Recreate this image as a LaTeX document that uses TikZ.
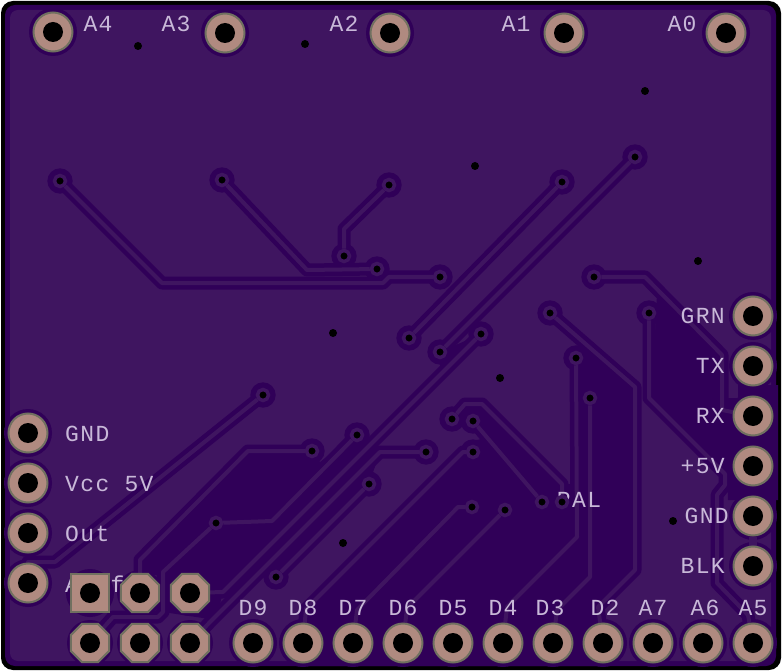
\documentclass[tikz,border=0pt]{standalone}
\usepackage{fontspec}
\setmonofont{Liberation Mono}[LetterSpace=6]
\usetikzlibrary{backgrounds,shapes.geometric}

\definecolor{boardcu}{RGB}{63,21,96}
\definecolor{boardgap}{RGB}{48,0,88}
\definecolor{padcu}{RGB}{176,138,128}
\definecolor{padrim}{RGB}{112,112,96}
\definecolor{silk}{RGB}{200,184,216}

\begin{document}
\begin{tikzpicture}[x=1pt,y=-1pt]
\tikzstyle{silktext}=[inner sep=0pt, text=silk, font=\ttfamily\fontsize{23}{23}\selectfont]
\tikzstyle{drill}=[path picture={\fill[black] (path picture bounding box.center) circle (10pt);}]
\tikzstyle{pad}=[draw=padrim, fill=padcu, line width=2pt, inner sep=0pt, drill, circle, minimum size=39pt]
\tikzstyle{sqpad}=[draw=padrim, fill=padcu, line width=2pt, inner sep=0pt, drill, rectangle, minimum size=38pt]
\tikzstyle{octpad}=[draw=padrim, fill=padcu, line width=2pt, inner sep=0pt, drill, regular polygon, regular polygon sides=8, minimum size=41.5pt]
\tikzstyle{via}=[circle, fill=black, draw=boardcu, line width=3.5pt, inner sep=0pt, minimum size=11pt]
\tikzstyle{hole}=[circle, fill=black, inner sep=0pt, minimum size=8pt]
\tikzstyle{trace}=[draw=boardgap, line width=4.5pt, double=boardcu, double distance=4pt, line join=round]

\useasboundingbox (0,0) rectangle (782,671);

% silk labels go under the pads
\node[silktext] (LA4) at ( 98, 24) {A4};
\node[silktext] (LA3) at (176, 24) {A3};
\node[silktext] (LA2) at (344, 24) {A2};
\node[silktext] (LA1) at (516, 24) {A1};
\node[silktext] (LA0) at (682, 24) {A0};
\node[silktext, anchor=west] (LGL) at (65,434) {GND};
\node[silktext, anchor=west] (LVC) at (65,484) {Vcc 5V};
\node[silktext, anchor=west] (LOU) at (65,534) {Out};
\node[silktext, anchor=west] (LAR) at (65,584) {Aref};
\node[silktext] (LD9) at (253,608) {D9};
\node[silktext] (LD8) at (303,608) {D8};
\node[silktext] (LD7) at (353,608) {D7};
\node[silktext] (LD6) at (403,608) {D6};
\node[silktext] (LD5) at (453,608) {D5};
\node[silktext] (LD4) at (503,608) {D4};
\node[silktext] (LD3) at (550,608) {D3};
\node[silktext] (LD2) at (605,608) {D2};
\node[silktext] (LA7) at (653,608) {A7};
\node[silktext] (LA6) at (705,608) {A6};
\node[silktext] (LA5) at (753,608) {A5};
\node[silktext, anchor=east] (LGR) at (725,316) {GRN};
\node[silktext, anchor=east] (LTX) at (725,366) {TX};
\node[silktext, anchor=east] (LRX) at (725,416) {RX};
\node[silktext, anchor=east] (LFV) at (725,466) {+5V};
\node[silktext, anchor=east] (LGD) at (729,516) {GND};
\node[silktext, anchor=east] (LBK) at (725,566) {BLK};
\node[silktext] (LPL) at (579,500) {PAL};

\node[pad] (PA4) at ( 53, 32) {};
\node[pad] (PA3) at (225, 33) {};
\node[pad] (PA2) at (390, 33) {};
\node[pad] (PA1) at (564, 33) {};
\node[pad] (PA0) at (726, 33) {};

\node[pad] (PGL) at (28,433) {};
\node[pad] (PVC) at (28,483) {};
\node[pad] (POU) at (28,533) {};
\node[pad] (PAR) at (28,583) {};

\node[sqpad]  (JA) at ( 90,593) {};
\node[octpad] (JB) at (140,593) {};
\node[octpad] (JC) at (190,593) {};
\node[octpad] (JD) at ( 90,643) {};
\node[octpad] (JE) at (140,643) {};
\node[octpad] (JF) at (190,643) {};

\node[pad] (PD9) at (253,643) {};
\node[pad] (PD8) at (303,643) {};
\node[pad] (PD7) at (353,643) {};
\node[pad] (PD6) at (403,643) {};
\node[pad] (PD5) at (453,643) {};
\node[pad] (PD4) at (503,643) {};
\node[pad] (PD3) at (553,643) {};
\node[pad] (PD2) at (603,643) {};
\node[pad] (PA7) at (653,643) {};
\node[pad] (PA6) at (703,643) {};
\node[pad] (PA5) at (753,643) {};

\node[pad] (PGR) at (753,316) {};
\node[pad] (PTX) at (753,366) {};
\node[pad] (PRX) at (753,416) {};
\node[pad] (PFV) at (753,466) {};
\node[pad] (PGD) at (753,516) {};
\node[pad] (PBK) at (753,566) {};

\node[via] (V1)  at ( 60,181) {};
\node[via] (V2)  at (222,180) {};
\node[via] (V3)  at (389,185) {};
\node[via] (V4)  at (344,256) {};
\node[via] (V5)  at (377,269) {};
\node[via] (V6)  at (440,277) {};
\node[via] (V7)  at (409,338) {};
\node[via] (V8)  at (440,352) {};
\node[via] (V9)  at (263,395) {};
\node[via] (V10) at (635,157) {};
\node[via] (V11) at (562,182) {};
\node[via] (V12) at (594,277) {};
\node[via] (V13) at (550,313) {};
\node[via] (V14) at (649,313) {};
\node[via] (V15) at (481,334) {};
\node[via] (V16) at (576,358) {};
\node[via] (V17) at (590,398) {};
\node[via] (V18) at (312,451) {};
\node[via] (V19) at (357,435) {};
\node[via] (V20) at (369,484) {};
\node[via] (V21) at (216,523) {};
\node[via] (V22) at (276,577) {};
\node[via] (V23) at (452,419) {};
\node[via] (V24) at (473,421) {};
\node[via] (V25) at (426,452) {};
\node[via] (V26) at (473,452) {};
\node[via] (V27) at (472,507) {};
\node[via] (V28) at (505,510) {};
\node[via] (V29) at (542,502) {};
\node[via] (V30) at (562,502) {};

\node[hole] (H1) at (138, 46) {};
\node[hole] (H2) at (305, 44) {};
\node[hole] (H3) at (645, 91) {};
\node[hole] (H4) at (475,166) {};
\node[hole] (H5) at (698,261) {};
\node[hole] (H6) at (333,333) {};
\node[hole] (H7) at (500,378) {};
\node[hole] (H8) at (343,543) {};
\node[hole] (H9) at (673,521) {};

\begin{scope}[on background layer]
% outline, then the copper pour
\fill[white] (0,0) rectangle (782,671);
\fill[black, rounded corners=12pt] (1,1) rectangle (781,670);
\fill[boardgap, rounded corners=10pt] (5,5) rectangle (776,666);
\fill[boardcu, rounded corners=8pt] (10,10) rectangle (771,661);

% no pour here
\fill[boardgap] (140,575) -- (140,560) -- (248,451) -- (312,451) -- (320,462) -- (357,435)
    -- (370,445) -- (223,592) -- (216,620) -- (163,612) -- (163,575) -- cycle;
\fill[boardgap] (440,352) -- (481,334) -- (440,368) -- cycle;
\fill[boardgap] (380,452) -- (369,484) -- (276,577) -- (267,565) -- cycle;
\fill[boardgap] (306,609) -- (463,452) -- (465,442) -- (482,439) -- (478,425) -- (482,405)
    -- (562,484) -- (576,484) -- (576,358) -- (592,350) -- (635,387) -- (635,570)
    -- (598,607) -- (615,640) -- (610,666) -- (296,666) -- (296,625) -- cycle;
\fill[boardgap] (657,294) -- (724,361) -- (724,398) -- (738,398) -- (738,385) -- (778,385)
    -- (778,500) -- (728,500) -- (727,472) -- (652,396) -- cycle;

% clearance round vias and pads
\fill[boardgap] (V1) circle (12.7) (V2) circle (12.7) (V3) circle (12.7) (V4) circle (12.7)
    (V5) circle (12.7) (V6) circle (12.7) (V7) circle (12.7) (V8) circle (12.7)
    (V9) circle (12.7) (V10) circle (12.7) (V11) circle (12.7) (V12) circle (12.7)
    (V13) circle (12.7) (V14) circle (12.7) (V15) circle (12.7) (V16) circle (12.7)
    (V17) circle (12.7) (V18) circle (12.7) (V19) circle (12.7) (V20) circle (12.7)
    (V21) circle (12.7) (V22) circle (12.7) (V23) circle (12.7) (V24) circle (12.7)
    (V25) circle (12.7) (V26) circle (12.7) (V27) circle (12.7) (V28) circle (12.7)
    (V29) circle (12.7) (V30) circle (12.7);
\fill[boardgap] (PA4) circle (24) (PA3) circle (24) (PA2) circle (24) (PA1) circle (24)
    (PA0) circle (24) (PGL) circle (24) (PVC) circle (24) (POU) circle (24) (PAR) circle (24)
    (JB) circle (23) (JC) circle (23) (JD) circle (23) (JE) circle (23) (JF) circle (23)
    (PD9) circle (24) (PD8) circle (24) (PD7) circle (24) (PD6) circle (24) (PD5) circle (24)
    (PD4) circle (24) (PD3) circle (24) (PD2) circle (24) (PA7) circle (24) (PA6) circle (24)
    (PA5) circle (24) (PGR) circle (24) (PTX) circle (24) (PRX) circle (24) (PFV) circle (24)
    (PGD) circle (24) (PBK) circle (24) (JA) circle (24);

% traces
\draw[trace] (V1) -- (162,283) -- (383,283) -- (389,277) -- (V6);
\draw[trace] (V2) -- (307,270) -- (V5);
\draw[trace] (V3) -- (344,229) -- (V4);
\draw[trace] (V11) -- (V7);
\draw[trace] (V10) -- (V8);
\draw[trace] (V9) -- (55,562) -- (28,562) -- (PAR);
\draw[trace] (V18) -- (248,451) -- (140,560) -- (JB);
\draw[trace] (V19) -- (272,521) -- (V21);
\draw[trace] (V21) -- (163,572) -- (163,612) -- (158,617) -- (113,617) -- (JD);
\draw[trace] (V15) -- (223,592) -- (JC);
\draw[trace] (V25) -- (380,452) -- (210,622) -- (JF);
\draw[trace] (V20) -- (V22);
\draw[trace] (V26) -- (463,452) -- (306,609) -- (PD8);
\draw[trace] (V27) -- (458,507) -- (357,610) -- (PD7);
\draw[trace] (V28) -- (407,608) -- (PD6);
\draw[trace] (V16) -- (577,537) -- (507,607) -- (PD4);
\draw[trace] (V17) -- (590,577) -- (557,610) -- (PD3);
\draw[trace] (V13) -- (635,387) -- (635,570) -- (598,607) -- (PD2);
\draw[trace] (V12) -- (645,277) -- (722,355) -- (722,410) -- (PRX);
\draw[trace] (V14) -- (649,398) -- (725,474) -- (725,485) -- (717,495) -- (717,583) -- (748,615) -- (PA5);
\draw[trace] (V23) -- (465,404) -- (482,404) -- (562,484) -- (V30);
\draw[trace] (V24) -- (V29);
\draw[boardcu, line width=8pt] (PGD) -- (PBK);
\end{scope}

\end{tikzpicture}
\end{document}
